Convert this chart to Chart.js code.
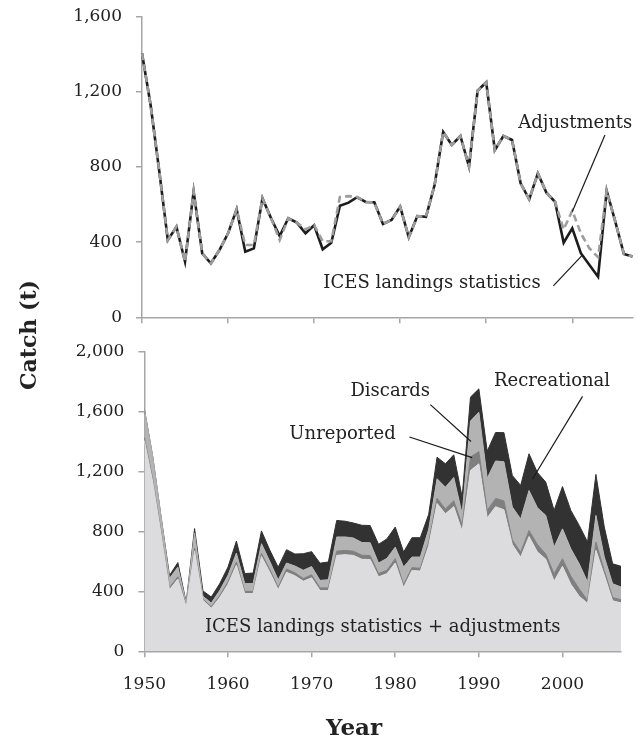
<!DOCTYPE html>
<html>
<head>
<meta charset="utf-8">
<script src="https://cdn.jsdelivr.net/npm/chart.js@4.4.1/dist/chart.umd.min.js"></script>
<style>
    html, body { margin: 0; padding: 0; background: #fff; }
    #wrap { position: relative; width: 638px; height: 737px; font-family: "DejaVu Serif", serif; color: #222; }
    #topBox { position: absolute; left: 0; top: 0; width: 638px; height: 335px; }
    #botBox { position: absolute; left: 0; top: 335px; width: 638px; height: 402px; }
    .axtitle { position: absolute; font-weight: bold; white-space: nowrap; line-height: 1; }
    #ytitle { left: 28px; top: 335px; font-size: 22px; transform: translate(-50%, -50%) rotate(-90deg); }
    #xtitle { left: 354px; top: 726px; font-size: 23px; transform: translate(-50%, -50%); }
</style>
</head>
<body>
<div id="wrap">
    <div id="topBox"><canvas id="TopChart"></canvas></div>
    <div id="botBox"><canvas id="BottomChart"></canvas></div>
    <div class="axtitle" id="ytitle">Catch (t)</div>
    <div class="axtitle" id="xtitle">Year</div>
</div>
<script>
var years = [1950, 1951, 1952, 1953, 1954, 1955, 1956, 1957, 1958, 1959,
             1960, 1961, 1962, 1963, 1964, 1965, 1966, 1967, 1968, 1969,
             1970, 1971, 1972, 1973, 1974, 1975, 1976, 1977, 1978, 1979,
             1980, 1981, 1982, 1983, 1984, 1985, 1986, 1987, 1988, 1989,
             1990, 1991, 1992, 1993, 1994, 1995, 1996, 1997, 1998, 1999,
             2000, 2001, 2002, 2003, 2004, 2005, 2006, 2007];

// top panel
var iceLandings = [1405, 1130, 780, 411, 482, 296, 669, 340, 287, 358,
                   447, 575, 349, 367, 633, 527, 433, 527, 504, 447,
                   490, 362, 397, 594, 610, 639, 614, 612, 497, 518,
                   589, 426, 539, 535, 704, 986, 917, 965, 802, 1206,
                   1251, 890, 965, 944, 713, 628, 766, 663, 615, 397,
                   474, 341, 278, 216, 674, 509, 337, 323];
var adjusted = [1405, 1130, 780, 411, 482, 296, 669, 340, 287, 358,
                447, 575, 385, 385, 633, 527, 411, 527, 504, 468,
                490, 405, 405, 640, 645, 640, 614, 612, 497, 518,
                589, 426, 539, 535, 704, 986, 917, 965, 802, 1206,
                1251, 890, 965, 944, 713, 628, 766, 663, 615, 468,
                567, 447, 367, 320, 674, 509, 337, 323];

// bottom panel, stacked on top of adjusted
var unreported = [20, 18, 15, 15, 15, 10, 20, 8, 10, 12,
                  15, 20, 15, 15, 20, 18, 15, 22, 20, 18,
                  20, 18, 18, 28, 28, 28, 27, 27, 22, 22,
                  29, 20, 19, 19, 25, 35, 33, 40, 40, 90,
                  82, 50, 55, 60, 30, 33, 40, 50, 35, 50,
                  50, 55, 50, 20, 55, 30, 22, 21];
var discards = [190, 150, 100, 60, 65, 15, 100, 20, 25, 35,
                45, 60, 52, 52, 65, 55, 50, 40, 45, 55,
                55, 50, 55, 95, 90, 88, 85, 85, 70, 80,
                77, 116, 71, 75, 85, 130, 145, 155, 76, 240,
                262, 215, 250, 260, 220, 222, 267, 245, 257, 177,
                200, 182, 167, 122, 178, 90, 92, 85];
var recreational = [0, 0, 0, 20, 30, 5, 30, 35, 40, 45,
                    55, 80, 67, 70, 85, 75, 85, 89, 80, 110,
                    100, 115, 118, 110, 105, 100, 115, 115, 125, 130,
                    134, 100, 129, 129, 100, 144, 156, 151, 111, 160,
                    156, 180, 190, 195, 210, 224, 245, 235, 222, 245,
                    282, 256, 256, 267, 273, 200, 133, 138];

var topTicks = [0, 400, 800, 1200, 1600];
var bottomTicks = [0, 400, 800, 1200, 1600, 2000];

var axisColor = '#a6a6a6';
var textColor = '#222222';
var fontName = 'DejaVu Serif';

// labels and leader lines, in (year index, catch) units
var topNotes = [
    { text: 'Adjustments', at: [50.35, 1034] },
    { text: 'ICES landings statistics', at: [33.7, 183] }
];
var topLeaders = [
    [53.8, 970, 50.0, 562],
    [47.8, 167, 51.2, 332]
];
var bottomNotes = [
    { text: 'Discards', at: [29.4, 1734] },
    { text: 'Unreported', at: [23.7, 1449] },
    { text: 'Recreational', at: [48.75, 1801] },
    { text: 'ICES landings statistics + adjustments', at: [28.5, 161] }
];
var bottomLeaders = [
    [34.2, 1646, 39.06, 1400],
    [31.7, 1430, 39.2, 1292],
    [52.4, 1701, 46.4, 1148]
];

function notesPlugin(notes, leaders) {
    return {
        id: 'notes',
        afterDatasetsDraw(chart) {
            const ctx = chart.ctx;
            const x = chart.scales.x;
            const y = chart.scales.y;
            ctx.save();
            ctx.strokeStyle = '#1a1a1a';
            ctx.lineWidth = 1.2;
            leaders.forEach(function (l) {
                ctx.beginPath();
                ctx.moveTo(x.getPixelForValue(l[0]), y.getPixelForValue(l[1]));
                ctx.lineTo(x.getPixelForValue(l[2]), y.getPixelForValue(l[3]));
                ctx.stroke();
            });
            ctx.fillStyle = textColor;
            ctx.font = '18px "' + fontName + '"';
            ctx.textAlign = 'center';
            ctx.textBaseline = 'middle';
            notes.forEach(function (n) {
                ctx.fillText(n.text, x.getPixelForValue(n.at[0]), y.getPixelForValue(n.at[1]));
            });
            ctx.restore();
        }
    };
}

function xAxis(showLabels, height) {
    return {
        type: 'category',
        offset: false,
        border: { color: axisColor, width: 1.5 },
        grid: {
            drawOnChartArea: false,
            drawTicks: true,
            tickLength: 6,
            lineWidth: 1.5,
            color: function (c) { return years[c.index] % 10 === 0 ? axisColor : 'rgba(0,0,0,0)'; }
        },
        ticks: {
            display: showLabels,
            autoSkip: false,
            maxRotation: 0,
            padding: 17,
            color: textColor,
            font: { family: fontName, size: 17 },
            callback: function (v, i) { return years[i] % 10 === 0 ? String(years[i]) : ''; }
        },
        afterFit: function (s) { s.height = height; }
    };
}

function yAxis(tickValues, width) {
    return {
        min: tickValues[0],
        max: tickValues[tickValues.length - 1],
        stacked: true,
        border: { color: axisColor, width: 1.5 },
        grid: { drawOnChartArea: false, tickLength: 6, lineWidth: 1.5, color: axisColor },
        afterBuildTicks: function (s) { s.ticks = tickValues.map(function (v) { return { value: v }; }); },
        ticks: {
            padding: 14,
            color: textColor,
            // small lineHeight keeps the label padding from pushing the plot area down
            font: { family: fontName, size: 17, lineHeight: 0.3 },
            callback: function (v) { return Number(v).toLocaleString('en-US'); }
        },
        afterFit: function (s) { s.width = width; }
    };
}

var TopChart = new Chart(document.getElementById('TopChart'), {
    type: 'line',
    data: {
        labels: years,
        datasets: [{
            label: 'Adjustments',
            data: adjusted,
            borderColor: '#9d9d9d',
            borderWidth: 2.6,
            borderDash: [7, 4],
            pointRadius: 0,
            tension: 0,
            fill: false
        }, {
            label: 'ICES landings statistics',
            data: iceLandings,
            borderColor: '#1c1c1c',
            borderWidth: 2.6,
            pointRadius: 0,
            tension: 0,
            fill: false
        }]
    },
    options: {
        responsive: true,
        maintainAspectRatio: false,
        animation: false,
        layout: { padding: { top: 16.7, right: 5.5, bottom: 0, left: 0 } },
        plugins: { legend: { display: false }, tooltip: { enabled: false } },
        scales: {
            x: xAxis(false, 17.7),
            y: Object.assign(yAxis(topTicks, 142), { stacked: false })
        }
    },
    plugins: [notesPlugin(topNotes, topLeaders)]
});

var BottomChart = new Chart(document.getElementById('BottomChart'), {
    type: 'line',
    data: {
        labels: years,
        datasets: [{
            label: 'ICES landings statistics + adjustments',
            data: adjusted,
            backgroundColor: '#dcdcdf',
            borderColor: '#dcdcdf',
            borderWidth: 1,
            pointRadius: 0,
            fill: 'origin'
        }, {
            label: 'Unreported',
            data: unreported,
            backgroundColor: '#7f7f7f',
            borderColor: '#7f7f7f',
            borderWidth: 1,
            pointRadius: 0,
            fill: '-1'
        }, {
            label: 'Discards',
            data: discards,
            backgroundColor: '#b3b3b3',
            borderColor: '#b3b3b3',
            borderWidth: 1,
            pointRadius: 0,
            fill: '-1'
        }, {
            label: 'Recreational',
            data: recreational,
            backgroundColor: '#323232',
            borderColor: '#323232',
            borderWidth: 1,
            pointRadius: 0,
            fill: '-1'
        }]
    },
    options: {
        responsive: true,
        maintainAspectRatio: false,
        animation: false,
        layout: { padding: { top: 15, right: 5.3, bottom: 0, left: 0 } },
        plugins: { legend: { display: false }, tooltip: { enabled: false } },
        scales: {
            x: xAxis(true, 85.7),
            y: yAxis(bottomTicks, 144.4)
        }
    },
    plugins: [notesPlugin(bottomNotes, bottomLeaders)]
});
</script>
</body>
</html>
